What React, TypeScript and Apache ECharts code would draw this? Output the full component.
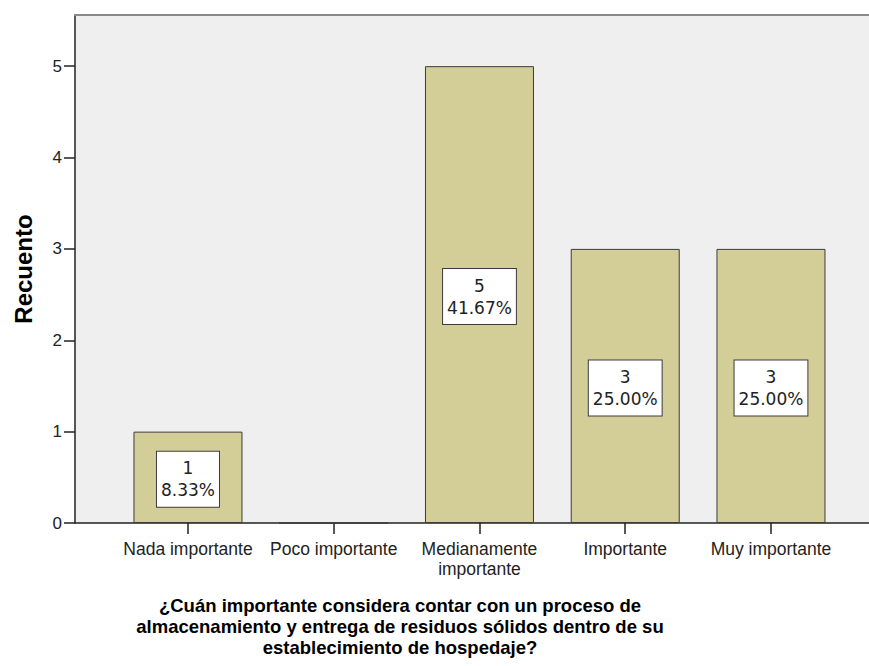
import React, { useEffect, useRef } from 'react';
import * as echarts from 'echarts';

const categories = ['Nada importante', 'Poco importante', 'Medianamente\nimportante', 'Importante', 'Muy importante'];
const counts = [1, 0, 5, 3, 3];
const yTicks = [0, 1, 2, 3, 4, 5];
const yMax = 5.56;
const xTitle = '¿Cuán importante considera contar con un proceso de\nalmacenamiento y entrega de residuos sólidos dentro de su\nestablecimiento de hospedaje?';
const yTitle = 'Recuento';

export default function App() {
  const ref = useRef<HTMLDivElement>(null);
  useEffect(() => {
    const chart = echarts.init(ref.current!, null, { renderer: 'svg' });
    const total = counts.reduce((a, b) => a + b, 0);
    const data = counts.map((v) => (v === 0 ? { value: v, label: { show: false } } : { value: v }));
    const axisColor = '#222';
    chart.setOption({
      animation: false,
      grid: [
        { left: 75, top: 15, width: 800, height: 508, show: true, backgroundColor: '#efefef', borderWidth: 0 },
        { left: 115.1, top: 15, width: 728.75, height: 508 },
      ],
      xAxis: [
        {
          type: 'value', gridIndex: 0, min: 0, max: 1, position: 'bottom',
          axisLine: { show: true, lineStyle: { color: axisColor, width: 1.5 } },
          axisTick: { show: false }, axisLabel: { show: false }, splitLine: { show: false },
        },
        {
          type: 'value', gridIndex: 0, min: 0, max: 1, position: 'top',
          axisLine: { show: true, lineStyle: { color: '#8a8a8a', width: 2 } },
          axisTick: { show: false }, axisLabel: { show: false }, splitLine: { show: false },
        },
        {
          type: 'category', gridIndex: 1, data: categories,
          axisLine: { show: false },
          axisTick: { show: true, alignWithLabel: true, length: 11, lineStyle: { color: axisColor, width: 1.5 } },
          axisLabel: { interval: 0, margin: 16, fontSize: 17.5, lineHeight: 20, fontFamily: 'Liberation Sans', color: '#222' },
          splitLine: { show: false },
        },
      ],
      yAxis: [
        {
          type: 'value', gridIndex: 0, min: 0, max: yMax, interval: 1,
          name: yTitle, nameLocation: 'middle', nameGap: 40, nameRotate: 90,
          nameTextStyle: { fontSize: 24, fontWeight: 'bold', fontFamily: 'Liberation Sans', color: '#000' },
          axisLine: { show: true, lineStyle: { color: axisColor, width: 1.5 } },
          axisTick: { show: true, length: 11, customValues: yTicks, lineStyle: { color: axisColor, width: 1.5 } },
          axisLabel: { customValues: yTicks, margin: 13, fontSize: 17, fontFamily: 'Liberation Sans', color: '#222' },
          splitLine: { show: false },
        },
        { type: 'value', gridIndex: 1, min: 0, max: yMax, show: false },
      ],
      graphic: [
        {
          type: 'text', x: 400, y: 595,
          style: {
            text: xTitle, textAlign: 'center', textVerticalAlign: 'top',
            font: 'bold 18.5px "Liberation Sans"', lineHeight: 21, fill: '#000',
          },
        },
      ],
      series: [
        {
          type: 'bar', xAxisIndex: 2, yAxisIndex: 1, data, barWidth: 109,
          itemStyle: { color: '#d3ce97', borderColor: '#3c3c3c', borderWidth: 1 },
          label: {
            show: true, position: 'inside', offset: [0, 2],
            formatter: (p: any) => `${p.value}\n${((p.value / total) * 100).toFixed(2)}%`,
            backgroundColor: '#fff', borderColor: '#3c3c3c', borderWidth: 1,
            padding: [6, 4, 5, 4], color: '#222', fontFamily: 'DejaVu Sans', fontSize: 17, lineHeight: 22,
          },
        },
      ],
    });
    return () => chart.dispose();
  }, []);
  return <div ref={ref} style={{ position: 'absolute', left: 0, top: 0, width: 869, height: 666 }} />;
}
